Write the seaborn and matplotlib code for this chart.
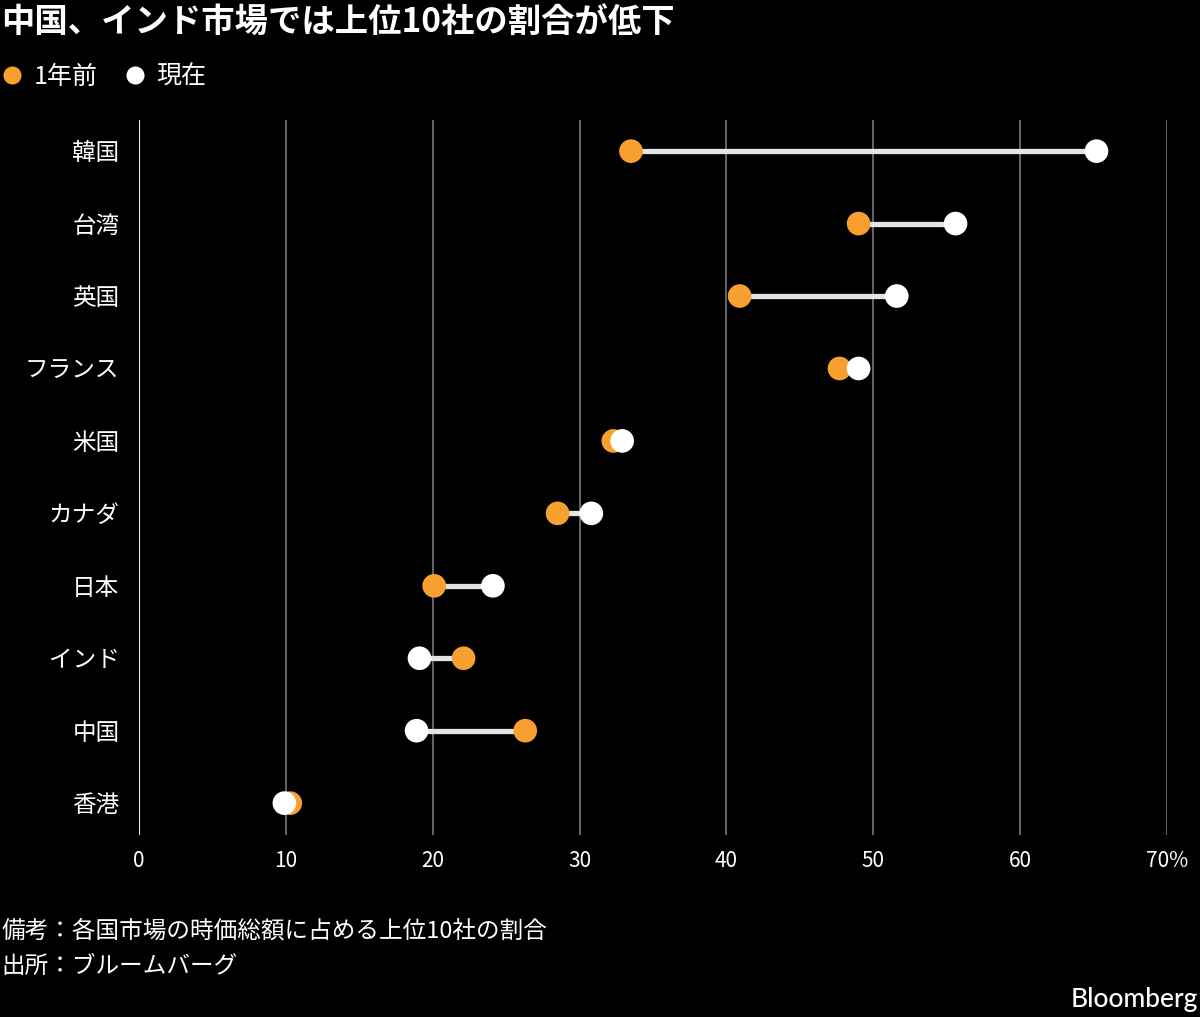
import pandas as pd
import matplotlib.pyplot as plt
import seaborn as sns
from matplotlib.lines import Line2D

countries = ['韓国', '台湾', '英国', 'フランス', '米国', 'カナダ', '日本', 'インド', '中国', '香港']
year_ago = [33.5, 49.0, 40.9, 47.7, 32.3, 28.5, 20.1, 22.1, 26.3, 10.3]
now = [65.2, 55.6, 51.6, 49.0, 32.9, 30.8, 24.1, 19.1, 18.9, 9.9]
xticks = [0, 10, 20, 30, 40, 50, 60, 70]
xtick_labels = ['0', '10', '20', '30', '40', '50', '60', '70%']

orange = '#F7A030'
white = '#FFFFFF'

sns.set_style('dark')
plt.rcParams['font.family'] = ['Noto Sans CJK JP', 'DejaVu Sans']

df = pd.DataFrame({'country': countries * 2,
                   'value': year_ago + now,
                   'when': ['1年前'] * len(countries) + ['現在'] * len(countries)})

fig = plt.figure(figsize=(12, 10.17), dpi=100, facecolor='black')
ax = fig.add_axes([139 / 1200, 1 - 835 / 1017, (1167 - 139) / 1200, (835 - 120) / 1017])
ax.set_facecolor('black')

# grid lines
for t in xticks:
    ax.axvline(t, color='#EEEEEE' if t == 0 else '#6E6E6E', lw=1.5 if t == 0 else 1.3, zorder=0)

# connecting bars
ax.hlines(countries, year_ago, now, color='#E4E4E8', lw=3.8, zorder=1)

sns.scatterplot(data=df, x='value', y='country', hue='when',
                palette={'1年前': orange, '現在': white},
                s=290, edgecolor='none', linewidth=0, legend=False, ax=ax, zorder=3)

ax.set_xlim(0, 70)
ax.set_ylim(len(countries) - 1 + 0.44, -0.43)
ax.set_xticks(xticks)
ax.set_xticklabels(xtick_labels)
ax.tick_params(axis='x', length=0, pad=11, labelsize=15, colors='white')
ax.tick_params(axis='y', length=0, pad=14, labelsize=17, colors='white')
ax.set_xlabel('')
ax.set_ylabel('')
for s in ax.spines.values():
    s.set_visible(False)
ax.grid(False)

fig.text(0.001, 1 - 23 / 1017, '中国、インド市場では上位10社の割合が低下', color='white',
         fontsize=24, fontweight='bold', va='center', ha='left')

# legend
handles = [Line2D([], [], marker='o', ls='', markersize=13, markerfacecolor=c, markeredgewidth=0)
           for c in (orange, white)]
leg = fig.legend(handles, ['1年前', '現在'], loc='center left', bbox_to_anchor=(-0.019, 1 - 77 / 1017),
                 ncol=2, frameon=False, fontsize=18, handletextpad=0.35, columnspacing=1.0,
                 handlelength=1.0, labelcolor='white')

fig.text(0.001, 1 - 931 / 1017, '備考：各国市場の時価総額に占める上位10社の割合', color='white',
         fontsize=17, va='center')
fig.text(0.001, 1 - 966 / 1017, '出所：ブルームバーグ', color='white', fontsize=17, va='center')
fig.text(0.998, 1 - 1000 / 1017, 'Bloomberg', color='white', fontsize=19, fontweight='medium',
         family=['Lato', 'DejaVu Sans'], va='center', ha='right')

fig.savefig('out.png', dpi=100, facecolor='black')
